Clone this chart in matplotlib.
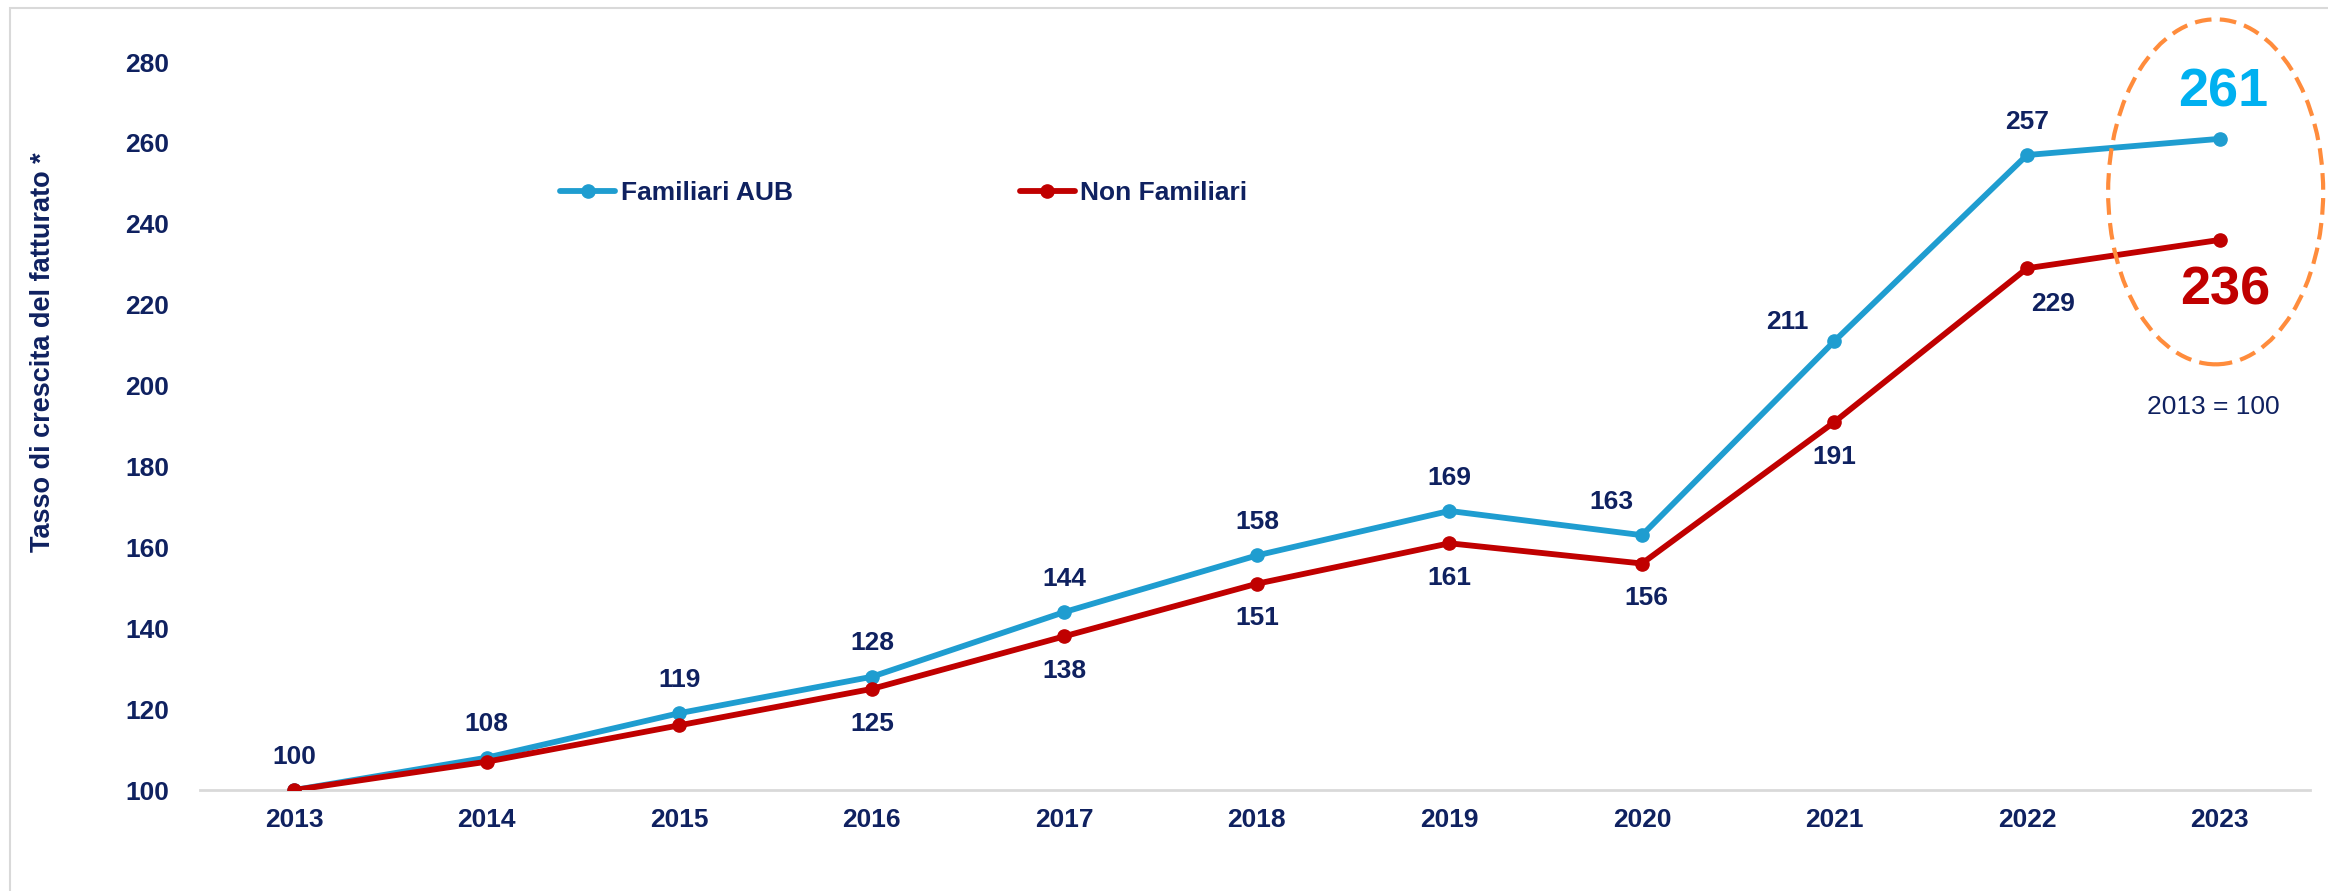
import matplotlib
matplotlib.use("Agg")
import matplotlib.pyplot as plt
from matplotlib.patches import Ellipse, Rectangle
from matplotlib import font_manager

# data
years = ["2013", "2014", "2015", "2016", "2017", "2018", "2019", "2020", "2021", "2022", "2023"]
familiari_aub = [100, 108, 119, 128, 144, 158, 169, 163, 211, 257, 261]
non_familiari = [100, 107, 116, 125, 138, 151, 161, 156, 191, 229, 236]
y_ticks = [100, 120, 140, 160, 180, 200, 220, 240, 260, 280]
series_names = ["Familiari AUB", "Non Familiari"]
y_title = "Tasso di crescita del fatturato *"
base_note = "2013 = 100"

NAVY = "#0F2160"
BLUE = "#1F9DD0"
RED = "#C00000"
CYAN = "#00B0F0"
ORANGE = "#FF8C3C"

names = {f.name for f in font_manager.fontManager.ttflist}
NARROW = "Liberation Sans Narrow" if "Liberation Sans Narrow" in names else "Liberation Sans"
WIDE = "Liberation Sans"

W, H = 2328, 891
fig = plt.figure(figsize=(W / 100, H / 100), dpi=100)
fig.patches.append(Rectangle((10 / W, -0.2), 1.5, 1.2 - 8 / H, transform=fig.transFigure,
                             fill=False, edgecolor="#D9D9D9", linewidth=1.5))

ax = fig.add_axes([200 / W, 101 / H, 2110 / W, 728 / H])
x = list(range(len(years)))

ax.plot(x, familiari_aub, color=BLUE, lw=4.2, marker="o", ms=9.5, solid_capstyle="round",
        label=series_names[0], zorder=3)
ax.plot(x, non_familiari, color=RED, lw=4.2, marker="o", ms=9.5, solid_capstyle="round",
        label=series_names[1], zorder=3)

ax.set_xlim(-0.49, 10.47)
ax.set_ylim(100, 280)
ax.set_xticks(x)
ax.set_xticklabels(years)
ax.set_yticks(y_ticks)
for s in ["top", "right", "left"]:
    ax.spines[s].set_visible(False)
ax.spines["bottom"].set_color("#D9D9D9")
ax.spines["bottom"].set_linewidth(2)
ax.tick_params(length=0, colors=NAVY)
ax.tick_params(axis="x", pad=13)
ax.tick_params(axis="y", pad=22)
for lab in ax.get_xticklabels() + ax.get_yticklabels():
    lab.set_fontfamily(NARROW)
    lab.set_fontweight("bold")
    lab.set_fontsize(19)

fig.text(43 / W, 1 - 352 / H, y_title, rotation=90, ha="center", va="center",
         color=NAVY, fontsize=19.5, fontweight="bold", family=WIDE)

# point labels
blue_off = {7: (-22, 24), 8: (-34, 14)}
red_off = {7: (3, -25), 9: (19, -26)}
lab_kw = dict(textcoords="offset points", ha="center", va="center", color=NAVY,
              fontsize=19, fontweight="bold", family=NARROW)
for i in range(len(years) - 1):
    ax.annotate(str(familiari_aub[i]), (i, familiari_aub[i]),
                xytext=blue_off.get(i, (0, 24)), **lab_kw)
for i in range(3, len(years) - 1):
    ax.annotate(str(non_familiari[i]), (i, non_familiari[i]),
                xytext=red_off.get(i, (0, -25)), **lab_kw)

last = len(years) - 1
ax.text(last + 0.02, familiari_aub[-1] + 11.5, str(familiari_aub[-1]), ha="center", va="center",
        color=CYAN, fontsize=39, fontweight="bold", family=WIDE)
ax.text(last + 0.03, non_familiari[-1] - 12.5, str(non_familiari[-1]), ha="center", va="center",
        color=RED, fontsize=39, fontweight="bold", family=WIDE)
ax.text(last - 0.03, 194.7, base_note, ha="center", va="center", color=NAVY,
        fontsize=19, family=WIDE)
ax.add_patch(Ellipse((last - 0.02, 247.9), 1.117, 85.3, fill=False, edgecolor=ORANGE,
                     lw=3, linestyle=(0, (4, 2)), clip_on=False, zorder=4))

fig.legend(loc="center left", bbox_to_anchor=(560 / W, 1 - 193 / H), ncol=2, frameon=False,
           borderpad=0, borderaxespad=0, handlelength=2.1, handletextpad=0.2,
           columnspacing=8.6, prop={"family": NARROW, "weight": "bold", "size": 19},
           labelcolor=NAVY)

fig.savefig("out.png", dpi=100)
